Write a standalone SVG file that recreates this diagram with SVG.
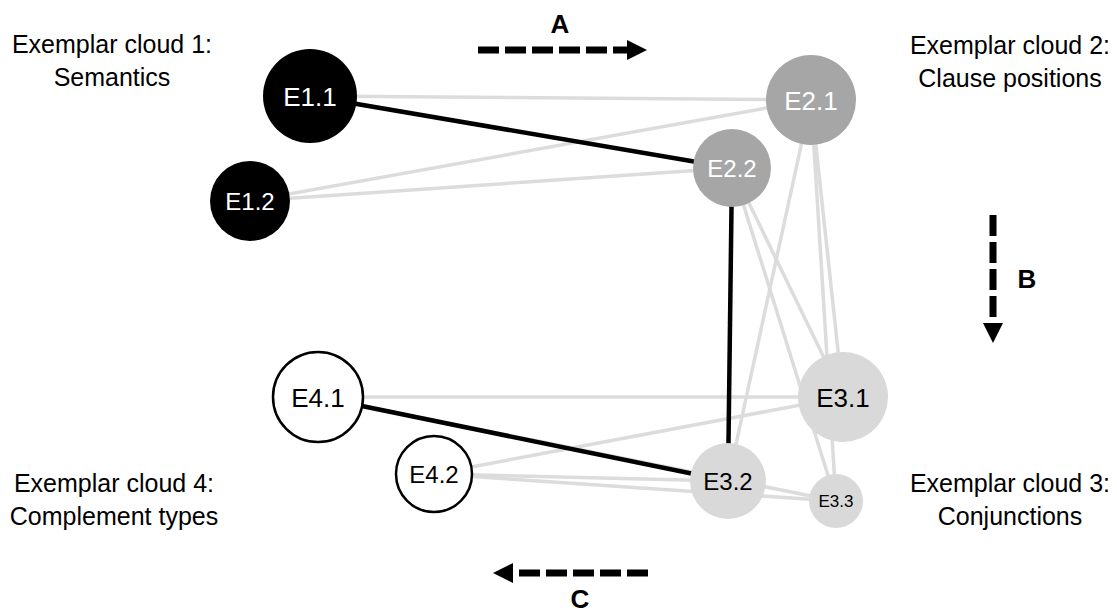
<svg xmlns="http://www.w3.org/2000/svg" width="1117" height="613" viewBox="0 0 1117 613">
<style>
text{font-family:"Liberation Sans",Arial,sans-serif;text-anchor:middle}
.lbl{font-size:25px;fill:#000}
.ar{font-size:26px;font-weight:bold;fill:#000}
.g{stroke:#dcdcdc;stroke-width:3.5;fill:none}
.k{stroke:#000;stroke-width:4.5;fill:none}
.dash{stroke:#000;stroke-width:7;fill:none;stroke-dasharray:21 6}
.c1{fill:#000}
.c2{fill:#a6a6a6}
.c3{fill:#d9d9d9}
.c4{fill:#fff;stroke:#000;stroke-width:2.5}
.tw{fill:#fff}
.tb{fill:#000}
</style>
<rect width="1117" height="613" fill="#fff"/>
<g id="labels">
<text class="lbl" x="112" y="53">Exemplar cloud 1:</text>
<text class="lbl" x="112" y="86">Semantics</text>
<text class="lbl" x="1010" y="54">Exemplar cloud 2:</text>
<text class="lbl" x="1010" y="87">Clause positions</text>
<text class="lbl" x="1010" y="492">Exemplar cloud 3:</text>
<text class="lbl" x="1010" y="525">Conjunctions</text>
<text class="lbl" x="114" y="492">Exemplar cloud 4:</text>
<text class="lbl" x="114" y="525">Complement types</text>
</g>
<g id="arrows">
<path class="dash" d="M478 50H627"/>
<polygon points="627,40 647,50 627,60"/>
<text class="ar" x="560" y="33">A</text>
<path class="dash" d="M993 215V323"/>
<polygon points="983,323 993,343 1003,323"/>
<text class="ar" x="1027" y="288">B</text>
<path class="dash" d="M648 573H513"/>
<polygon points="513,563 493,573 513,583"/>
<text class="ar" x="580" y="608">C</text>
</g>
<g id="connectors">
<line class="g" x1="310" y1="96" x2="811" y2="100"/>
<line class="g" x1="250" y1="201" x2="811" y2="100"/>
<line class="g" x1="250" y1="201" x2="732" y2="168"/>
<line class="g" x1="811" y1="100" x2="843" y2="397"/>
<line class="g" x1="811" y1="100" x2="728" y2="481"/>
<line class="g" x1="811" y1="100" x2="836" y2="501"/>
<line class="g" x1="732" y1="168" x2="843" y2="397"/>
<line class="g" x1="732" y1="168" x2="836" y2="501"/>
<line class="g" x1="318" y1="397" x2="843" y2="397"/>
<line class="g" x1="318" y1="397" x2="836" y2="501"/>
<line class="g" x1="434" y1="474" x2="843" y2="397"/>
<line class="g" x1="434" y1="474" x2="728" y2="481"/>
<line class="g" x1="434" y1="474" x2="836" y2="501"/>
<line class="k" x1="310" y1="96" x2="732" y2="168"/>
<line class="k" x1="732" y1="168" x2="728" y2="481"/>
<line class="k" x1="318" y1="397" x2="728" y2="481"/>
</g>
<g id="E1.1"><circle class="c1" cx="310" cy="96" r="47"/><text class="tw" x="310" y="105.5" font-size="26">E1.1</text></g>
<g id="E1.2"><circle class="c1" cx="250" cy="201" r="40"/><text class="tw" x="250" y="209.5" font-size="24">E1.2</text></g>
<g id="E2.1"><circle class="c2" cx="811" cy="100" r="45"/><text class="tw" x="811" y="109.5" font-size="26">E2.1</text></g>
<g id="E2.2"><circle class="c2" cx="732" cy="168" r="39"/><text class="tw" x="732" y="176.5" font-size="24">E2.2</text></g>
<g id="E3.1"><circle class="c3" cx="843" cy="397" r="45"/><text class="tb" x="843" y="406.5" font-size="26">E3.1</text></g>
<g id="E3.2"><circle class="c3" cx="728" cy="481" r="38"/><text class="tb" x="728" y="489.5" font-size="24">E3.2</text></g>
<g id="E3.3"><circle class="c3" cx="836" cy="501" r="27"/><text class="tb" x="836" y="507" font-size="17">E3.3</text></g>
<g id="E4.1"><circle class="c4" cx="318" cy="397" r="45"/><text class="tb" x="318" y="406.5" font-size="26">E4.1</text></g>
<g id="E4.2"><circle class="c4" cx="434" cy="474" r="38"/><text class="tb" x="434" y="482.5" font-size="24">E4.2</text></g>
</svg>
